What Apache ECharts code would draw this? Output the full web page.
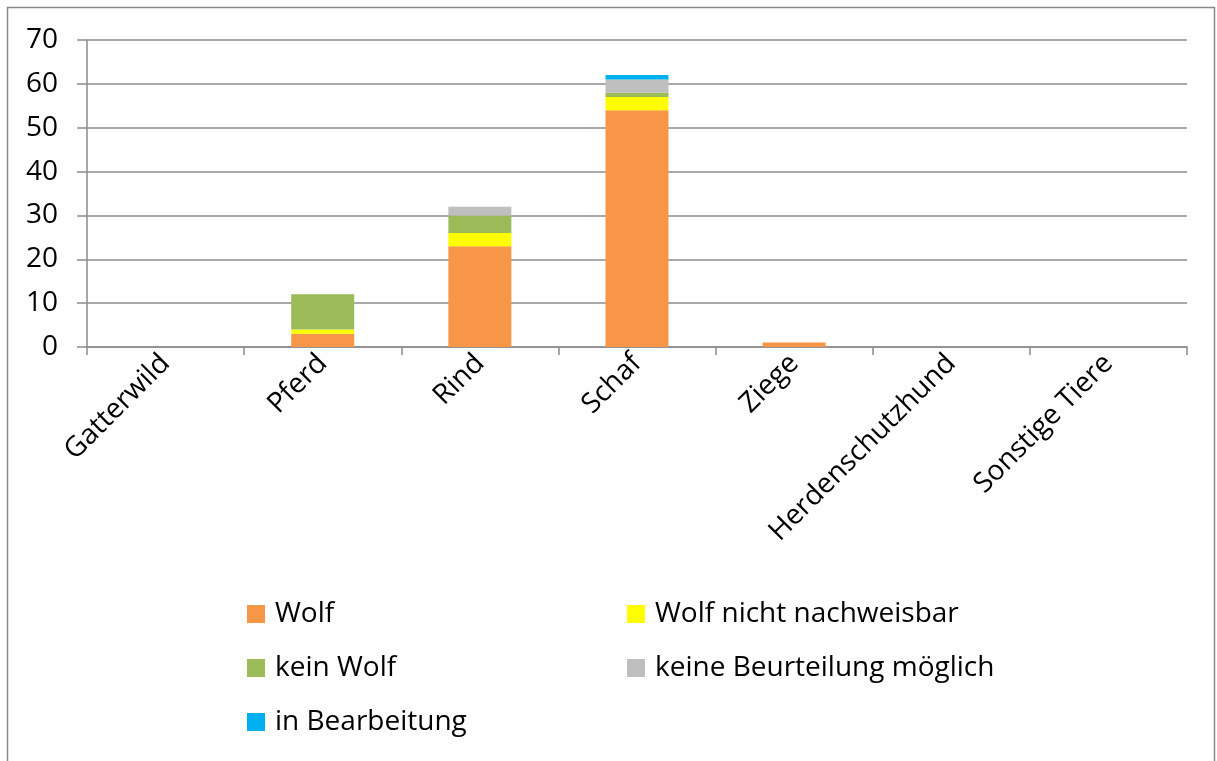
<!DOCTYPE html>
<html>
<head>
<meta charset="utf-8">
<script src="https://cdn.jsdelivr.net/npm/echarts@6/dist/echarts.min.js"></script>
<style>html,body{margin:0;padding:0;background:#fff}#c{width:1217px;height:761px}</style>
</head>
<body>
<div id="c"></div>
<script>
const categories = ['Gatterwild', 'Pferd', 'Rind', 'Schaf', 'Ziege', 'Herdenschutzhund', 'Sonstige Tiere'];
const seriesNames = ['Wolf', 'Wolf nicht nachweisbar', 'kein Wolf', 'keine Beurteilung möglich', 'in Bearbeitung'];
const wolf = [0, 3, 23, 54, 1, 0, 0];
const wolfNichtNachweisbar = [0, 1, 3, 3, 0, 0, 0];
const keinWolf = [0, 8, 4, 1, 0, 0, 0];
const keineBeurteilung = [0, 0, 2, 3, 0, 0, 0];
const inBearbeitung = [0, 0, 0, 1, 0, 0, 0];
const yTicks = [0, 10, 20, 30, 40, 50, 60, 70];

const colors = ['#F79646', '#FFFF00', '#9BBB59', '#BFBFBF', '#00B0F0'];
const values = [wolf, wolfNichtNachweisbar, keinWolf, keineBeurteilung, inBearbeitung];
const FONT = '"Open Sans", sans-serif';
const FS = 28;

const chart = echarts.init(document.getElementById('c'), null, {renderer: 'canvas'});
const legendPos = [[247, 614], [627, 614], [247, 668], [627, 668], [247, 722]];
const legends = seriesNames.map((n, i) => ({
  data: [n], left: legendPos[i][0], top: legendPos[i][1] - 18,
  itemWidth: 18, itemHeight: 18, itemGap: 0, icon: 'rect',
  selectedMode: false,
  textStyle: {fontFamily: FONT, fontSize: FS, color: '#000', lineHeight: 36, padding: [0, 0, 0, 5]},
  padding: 0
}));

chart.setOption({
  animation: false,
  color: colors,
  graphic: [{type: 'rect', shape: {x: 7.5, y: 7.5, width: 1207, height: 770}, style: {fill: 'none', stroke: '#898989', lineWidth: 1.5}, silent: true}],
  legend: legends,
  grid: {left: 87, right: 30, top: 40, bottom: 414, containLabel: false},
  xAxis: {
    type: 'category', data: categories,
    axisLine: {lineStyle: {color: '#8c8c8c', width: 1.5}},
    axisTick: {show: true, length: 8, lineStyle: {color: '#8c8c8c', width: 1.5}},
    axisLabel: {rotate: 45, fontFamily: FONT, fontSize: FS, color: '#000', margin: 12, interval: 0}
  },
  yAxis: {
    type: 'value', min: 0, max: 70, interval: 10,
    axisLine: {show: true, lineStyle: {color: '#8c8c8c', width: 1.5}},
    axisTick: {show: true, length: 10, lineStyle: {color: '#8c8c8c', width: 1.5}},
    splitLine: {lineStyle: {color: '#8c8c8c', width: 1.5}},
    axisLabel: {fontFamily: FONT, fontSize: FS, color: '#000', margin: 29,
      formatter: v => yTicks.includes(v) ? String(v) : ''}
  },
  series: seriesNames.map((n, i) => ({
    name: n, type: 'bar', stack: 'total', data: values[i], barWidth: 63,
    itemStyle: {color: colors[i]}
  }))
});
</script>
</body>
</html>
